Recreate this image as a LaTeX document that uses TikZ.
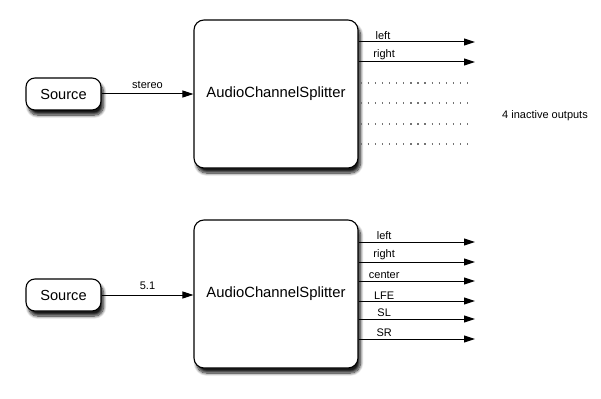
\documentclass[tikz,border=0pt]{standalone}
\usepackage{fontspec}
\setmainfont{Liberation Sans}
\usepackage{tikz}
\usetikzlibrary{arrows.meta}
\usetikzlibrary{calc}
\usetikzlibrary{positioning}
\usetikzlibrary{shadows.blur}
\tikzset{
	>={Triangle[length=11pt,width=7pt]},
	softshadow/.style={blur shadow={shadow xshift=2.5pt, shadow yshift=-5pt, shadow blur steps=10, shadow blur radius=3pt, shadow opacity=90}},
	srcbox/.style={draw=black, line width=1.1pt, fill=white, rounded corners=9pt,
		minimum width=75pt, minimum height=32pt, font=\fontsize{14.6}{17}\selectfont, softshadow},
	splitbox/.style={draw=black, line width=1.1pt, fill=white, rounded corners=10pt,
		minimum width=164pt, minimum height=148pt, font=\fontsize{14.8}{17}\selectfont, softshadow},
	wire/.style={->, line width=1pt, black},
	idle/.style={line width=1.3pt, black!55, dash pattern=on 1.3pt off 5.8pt},
	lab/.style={font=\fontsize{11}{13}\selectfont, inner sep=1.5pt},
}

\begin{document}
\begin{tikzpicture}[x=1pt, y=-1pt, line cap=butt, line join=round]

	\useasboundingbox (0,0) rectangle (601,398);

	% --- stereo case
	\node[srcbox] (src1) at (63.5,94) {Source};
	\node[splitbox] (split1) at (276,94) {AudioChannelSplitter};
	\draw[wire] (src1) -- node[lab, above=3pt] {stereo} (split1);

	\coordinate (out1) at (475,42);
	\coordinate (out2) at (475,62);
	\draw[wire] (split1.east |- out1) -- node[lab, above, pos=0.21] {left} (out1);
	\draw[wire] (split1.east |- out2) -- node[lab, above, pos=0.22] {right} (out2);

	% inactive outputs
	\foreach \y [count=\i] in {83,103,124,144} {
		\coordinate (idle\i) at (473,\y);
		\draw[idle] ($(split1.east |- idle\i)+(2,0)$) -- (idle\i);
	}
	\node[lab] (note1) at (545,116) {4 inactive outputs};

	% --- 5.1 case
	\node[srcbox] (src2) at (63.5,295) {Source};
	\node[splitbox] (split2) at (276,294) {AudioChannelSplitter};
	\draw[wire] (src2) -- node[lab, above=3pt] {5.1} (split2.west |- src2);

	\foreach \y/\txt [count=\i] in {242/left,262/right,281/center,301/LFE,319/SL,339/SR} {
		\coordinate (ch\i) at (475,\y);
		\draw[wire] (split2.east |- ch\i) -- node[lab, above, pos=0.22] {\txt} (ch\i);
	}

\end{tikzpicture}
\end{document}
